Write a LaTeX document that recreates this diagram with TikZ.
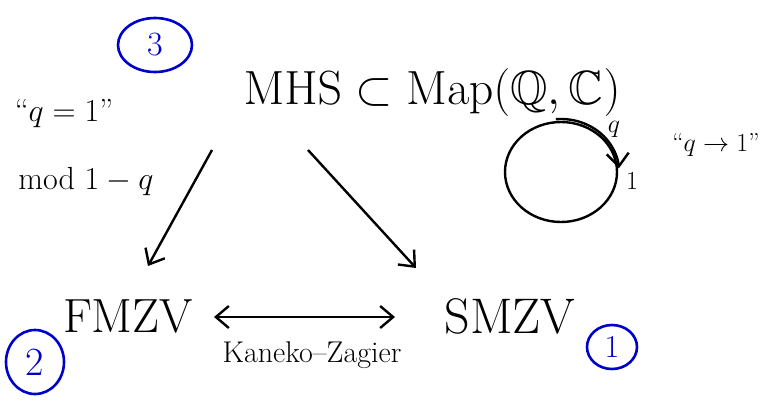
\documentclass[tikz,border=0pt]{standalone}
\usepackage{fix-cm}
\usepackage{amssymb}
\usetikzlibrary{arrows.meta}
\begin{document}
\begin{tikzpicture}[x=1pt,y=-1pt,
  big/.style={font=\fontsize{48}{52}\selectfont, inner sep=0pt},
  mid/.style={font=\fontsize{32}{36}\selectfont, inner sep=0pt},
  small/.style={font=\fontsize{26}{30}\selectfont, inner sep=0pt},
  ringtext/.style={text=blue!80!black, inner sep=0pt},
  ring/.style={draw=blue!80!black, line width=2.6pt},
  pen/.style={line width=2.4pt, black},
  harrow/.style={pen, -{Straight Barb[length=13pt, width=22pt]}}]
\useasboundingbox (0,0) rectangle (779,405);
% numbered rings
\draw[ring] (155,45) ellipse [x radius=37, y radius=27];
\node[ringtext, font=\fontsize{34}{36}\selectfont] (n3) at (155,45) {3};
\draw[ring] (35,362) ellipse [x radius=29, y radius=32];
\node[ringtext, font=\fontsize{40}{42}\selectfont] (n2) at (35,362) {2};
\draw[ring] (612,347) ellipse [x radius=25, y radius=22];
\node[ringtext, font=\fontsize{32}{34}\selectfont] (n1) at (612,347) {1};
% main texts
\node[big] (mhs) at (432,92) {$\mathrm{MHS}\subset\mathrm{Map}(\mathbb{Q},\mathbb{C})$};
\node[big] (fmzv) at (128,316) {FMZV};
\node[big, font=\fontsize{50}{54}\selectfont] (smzv) at (510,316) {SMZV};
\node[mid] (q1) at (64,114) {``$q=1$''};
\node[mid] (mod) at (86,182) {mod $1-q$};
\node[small] (qto1) at (716,145) {``$q\to1$''};
\node[small, font=\fontsize{30}{34}\selectfont] (kz) at (312,355) {Kaneko--Zagier};
% arrows
\coordinate (a1s) at (212,150);
\coordinate (a1e) at (148,266);
\coordinate (a2s) at (308,150);
\coordinate (a2e) at (416,268);
\draw[harrow] (a1s) -- (a1e);
\draw[harrow] (a2s) -- (a2e);
\coordinate (ks) at (214,317);
\coordinate (ke) at (395,317);
\draw[pen, {Straight Barb[length=13pt, width=22pt]}-{Straight Barb[length=13pt, width=22pt]}] (ks) -- (ke);
% circle with q -> 1
\coordinate (cc) at (561,172);
\draw[pen] (cc) ellipse [x radius=56, y radius=50];
\draw[harrow] ([shift={(265:58 and 53)}]cc) arc [start angle=265, end angle=356, x radius=58, y radius=53];
\node[small] (ql) at (614,129) {$q$};
\node[small] (onel) at (632,181) {$1$};
\end{tikzpicture}
\end{document}
